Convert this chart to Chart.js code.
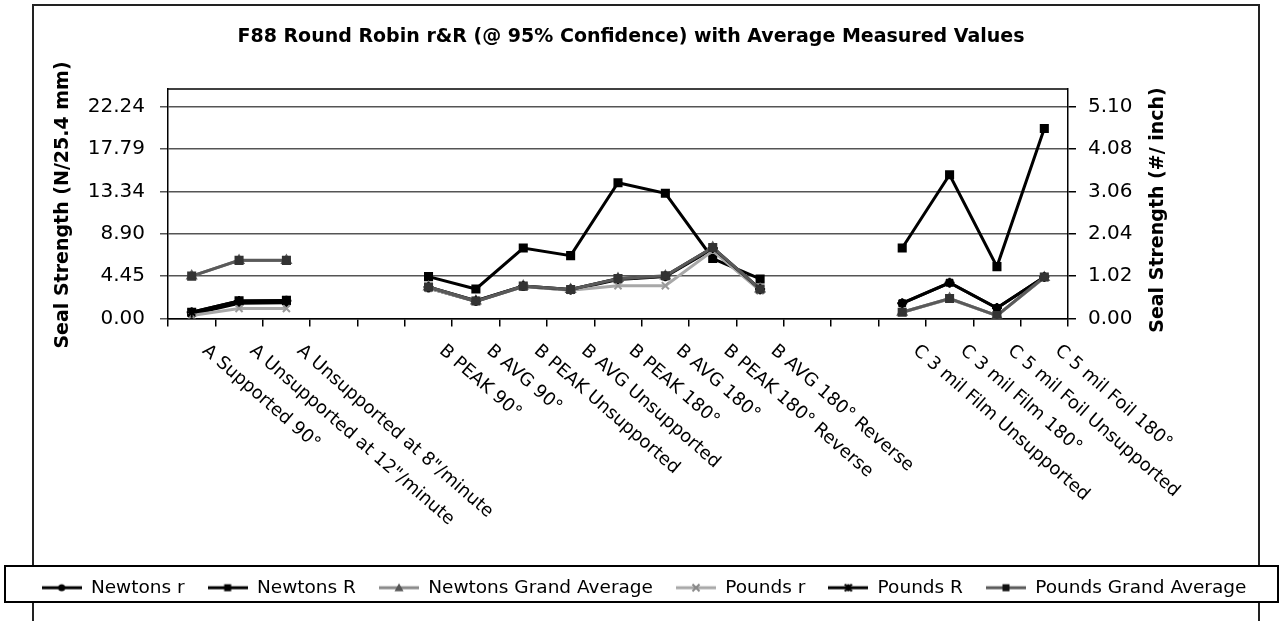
<!DOCTYPE html>
<html>
<head>
<meta charset="utf-8">
<script src="https://cdn.jsdelivr.net/npm/chart.js@4/dist/chart.umd.min.js"></script>
<style>
  body { margin: 0; background: #fff; }
  canvas { display: block; }
</style>
</head>
<body>
<canvas id="chart" width="1288" height="621"></canvas>
<script>
// categories (empty strings are the gaps between groups A, B and C)
const categories = [
    "A Supported 90°", "A Unsupported at 12\"/minute", "A Unsupported at 8\"/minute", "", "",
    "B PEAK 90°", "B AVG 90°", "B PEAK Unsupported", "B AVG Unsupported",
    "B PEAK 180°", "B AVG 180°", "B PEAK 180° Reverse", "B AVG 180° Reverse", "", "",
    "C 3 mil Film Unsupported", "C 3 mil Film 180°", "C 5 mil Foil Unsupported", "C 5 mil Foil 180°"
];

// Newtons series (left axis, N/25.4 mm)
const newtonsRepeat = [0.45, 1.6, 1.65, null, null, 3.2, 1.8, 3.35, 3.0, 4.1, 4.4, 7.3, 3.0, null, null, 1.6, 3.75, 1.1, 4.35];
const newtonsReprod = [0.66, 1.85, 1.9, null, null, 4.4, 3.1, 7.4, 6.6, 14.25, 13.15, 6.3, 4.15, null, null, 7.4, 15.1, 5.45, 19.95];
const newtonsGrandAvg = [4.45, 6.1, 6.1, null, null, 3.3, 1.85, 3.4, 3.05, 4.2, 4.45, 7.45, 3.1, null, null, 0.65, 2.1, 0.3, 4.3];

// Pounds series (right axis, #/inch)
const poundsRepeat = [0.07, 0.24, 0.24, null, null, 0.73, 0.42, 0.77, 0.68, 0.79, 0.79, 1.63, 0.67, null, null, 0.15, 0.47, 0.07, 0.99];
const poundsReprod = [0.15, 0.42, 0.43, null, null, 0.76, 0.43, 0.78, 0.70, 0.96, 1.02, 1.70, 0.71, null, null, 0.37, 0.86, 0.25, 1.00];
const poundsGrandAvg = [1.02, 1.40, 1.40, null, null, 0.76, 0.42, 0.78, 0.70, 0.96, 1.03, 1.71, 0.71, null, null, 0.15, 0.48, 0.07, 1.00];

// tick labels of both axes
const leftTicks = [0, 4.45, 8.90, 13.34, 17.79, 22.24];
const rightTicks = [0, 1.02, 2.04, 3.06, 4.08, 5.10];
const leftMax = 24.1;
const rightMax = leftMax * 5.10 / 22.24;

const chartTitle = "F88 Round Robin r&R (@ 95% Confidence) with Average Measured Values";
const FONT = "'DejaVu Sans', Verdana, sans-serif";

// draw a small marker, used for the legend samples
function drawMarker(g, style, x, y, r, color) {
    g.fillStyle = color;
    g.strokeStyle = color;
    g.lineWidth = 2;
    g.beginPath();
    if (style === "circle") {
        g.arc(x, y, r, 0, Math.PI * 2);
        g.fill();
    } else if (style === "rect") {
        g.fillRect(x - r, y - r, r * 2, r * 2);
    } else if (style === "triangle") {
        g.moveTo(x, y - r);
        g.lineTo(x + r, y + r * 0.8);
        g.lineTo(x - r, y + r * 0.8);
        g.closePath();
        g.fill();
    } else if (style === "crossRot") {
        g.moveTo(x - r, y - r); g.lineTo(x + r, y + r);
        g.moveTo(x + r, y - r); g.lineTo(x - r, y + r);
        g.stroke();
    } else if (style === "star") {
        g.moveTo(x - r, y - r); g.lineTo(x + r, y + r);
        g.moveTo(x + r, y - r); g.lineTo(x - r, y + r);
        g.moveTo(x, y - r); g.lineTo(x, y + r);
        g.stroke();
    }
}

// legend sample: a short line with the marker in the middle
function makeSample(lineColor, style, markerColor, r) {
    const c = document.createElement("canvas");
    c.width = 40;
    c.height = 14;
    const g = c.getContext("2d");
    g.strokeStyle = lineColor;
    g.lineWidth = 3;
    g.beginPath();
    g.moveTo(0, 7);
    g.lineTo(40, 7);
    g.stroke();
    drawMarker(g, style, 20, 7, r, markerColor);
    return c;
}

const datasets = [
    { label: "Newtons r", data: newtonsRepeat, yAxisID: "y", borderColor: "#000", backgroundColor: "#000",
      pointStyle: "circle", pointRadius: 3.5, order: 5 },
    { label: "Newtons R", data: newtonsReprod, yAxisID: "y", borderColor: "#000", backgroundColor: "#000",
      pointStyle: "rect", pointRadius: 5, order: 4 },
    { label: "Newtons Grand Average", data: newtonsGrandAvg, yAxisID: "y", borderColor: "#8a8a8a", backgroundColor: "#666",
      pointStyle: "triangle", pointRadius: 5, order: 3 },
    { label: "Pounds r", data: poundsRepeat, yAxisID: "y1", borderColor: "#a8a8a8", backgroundColor: "#999",
      pointStyle: "crossRot", pointRadius: 5, order: 2 },
    { label: "Pounds R", data: poundsReprod, yAxisID: "y1", borderColor: "#000", backgroundColor: "#000",
      pointStyle: "star", pointRadius: 5, order: 1 },
    { label: "Pounds Grand Average", data: poundsGrandAvg, yAxisID: "y1", borderColor: "#5a5a5a", backgroundColor: "#333",
      pointStyle: "rect", pointRadius: 5, order: 0 }
];
datasets.forEach(ds => {
    ds.borderWidth = 3;
    ds.pointBorderWidth = 2;
    ds.pointBorderColor = ds.backgroundColor;
    ds.pointBackgroundColor = ds.backgroundColor;
    ds.tension = 0;
});

const samples = [
    makeSample("#000", "circle", "#000", 3.5),
    makeSample("#000", "rect", "#000", 3.5),
    makeSample("#8a8a8a", "triangle", "#555", 4.5),
    makeSample("#a8a8a8", "crossRot", "#888", 3.5),
    makeSample("#000", "star", "#000", 3.5),
    makeSample("#5a5a5a", "rect", "#111", 3.5)
];

// frames, title, rotated category labels and axis titles
const decor = {
    id: "decor",
    beforeDraw(chart) {
        const ctx = chart.ctx;
        ctx.save();
        ctx.fillStyle = "#fff";
        ctx.fillRect(0, 0, chart.width, chart.height);
        ctx.strokeStyle = "#222";
        ctx.lineWidth = 2;
        ctx.strokeRect(33, 5, 1226, 650);
        // legend frame
        ctx.fillStyle = "#fff";
        ctx.fillRect(5, 566, 1273, 36);
        ctx.strokeStyle = "#000";
        ctx.strokeRect(5, 566, 1273, 36);
        ctx.restore();
    },
    afterDraw(chart) {
        const ctx = chart.ctx;
        const area = chart.chartArea;
        ctx.save();
        ctx.strokeStyle = "#000";
        ctx.lineWidth = 1.5;
        ctx.beginPath();
        ctx.moveTo(area.left, area.top);
        ctx.lineTo(area.right, area.top);
        ctx.stroke();

        // title
        ctx.fillStyle = "#000";
        ctx.font = "bold 19px " + FONT;
        ctx.textAlign = "center";
        ctx.textBaseline = "middle";
        ctx.fillText(chartTitle, 631, 37);

        // category labels, reading down to the right
        const xs = chart.scales.x;
        ctx.font = "18px " + FONT;
        ctx.textAlign = "left";
        categories.forEach((label, i) => {
            if (!label) return;
            ctx.save();
            ctx.translate(xs.getPixelForValue(i) + 13, area.bottom + 30);
            ctx.rotate(41 * Math.PI / 180);
            ctx.fillText(label, 0, 0);
            ctx.restore();
        });

        // axis titles, both reading bottom to top
        ctx.font = "bold 19px " + FONT;
        ctx.textAlign = "center";
        ctx.save();
        ctx.translate(63, 205);
        ctx.rotate(-Math.PI / 2);
        ctx.fillText("Seal Strength (N/25.4 mm)", 0, 0);
        ctx.restore();
        ctx.save();
        ctx.translate(1158, 210);
        ctx.rotate(-Math.PI / 2);
        ctx.fillText("Seal Strength (#/ inch)", 0, 0);
        ctx.restore();
        ctx.restore();
    }
};

const ctx = document.getElementById("chart").getContext("2d");
const chart = new Chart(ctx, {
    type: "line",
    data: { labels: categories, datasets: datasets },
    plugins: [decor],
    options: {
        responsive: false,
        animation: false,
        devicePixelRatio: 1,
        layout: { padding: { left: 0, right: 0, top: 89, bottom: 14 } },
        plugins: {
            title: { display: false },
            legend: {
                position: "bottom",
                labels: {
                    usePointStyle: true,
                    pointStyleWidth: 40,
                    padding: 23,
                    color: "#000",
                    font: { family: FONT, size: 18.5 },
                    generateLabels(chart) {
                        return chart.data.datasets.map((ds, i) => ({
                            text: ds.label,
                            pointStyle: samples[i],
                            fillStyle: ds.borderColor,
                            strokeStyle: ds.borderColor,
                            lineWidth: 0,
                            hidden: false,
                            datasetIndex: i
                        }));
                    }
                }
            },
            tooltip: { enabled: false }
        },
        scales: {
            x: {
                type: "category",
                offset: true,
                grid: { offset: true, drawOnChartArea: false, drawTicks: true, tickLength: 8, color: "#000", lineWidth: 1.5 },
                border: { color: "#000", width: 1.5 },
                ticks: { display: false },
                afterFit(scale) { scale.height = 237; }
            },
            y: {
                position: "left",
                min: 0,
                max: leftMax,
                grid: { color: "#555", lineWidth: 1.5, tickLength: 8 },
                border: { color: "#000", width: 1.5 },
                ticks: {
                    color: "#000",
                    font: { family: FONT, size: 20 },
                    padding: 15,
                    callback: v => v.toFixed(2)
                },
                afterBuildTicks(scale) { scale.ticks = leftTicks.map(v => ({ value: v })); },
                afterFit(scale) { scale.width = 168; }
            },
            y1: {
                position: "right",
                min: 0,
                max: rightMax,
                grid: { drawOnChartArea: false, color: "#000", lineWidth: 1.5, tickLength: 8 },
                border: { color: "#000", width: 1.5 },
                ticks: {
                    color: "#000",
                    font: { family: FONT, size: 20 },
                    padding: 12,
                    callback: v => v.toFixed(2)
                },
                afterBuildTicks(scale) { scale.ticks = rightTicks.map(v => ({ value: v })); },
                afterFit(scale) { scale.width = 220; }
            }
        }
    }
});
</script>
</body>
</html>
